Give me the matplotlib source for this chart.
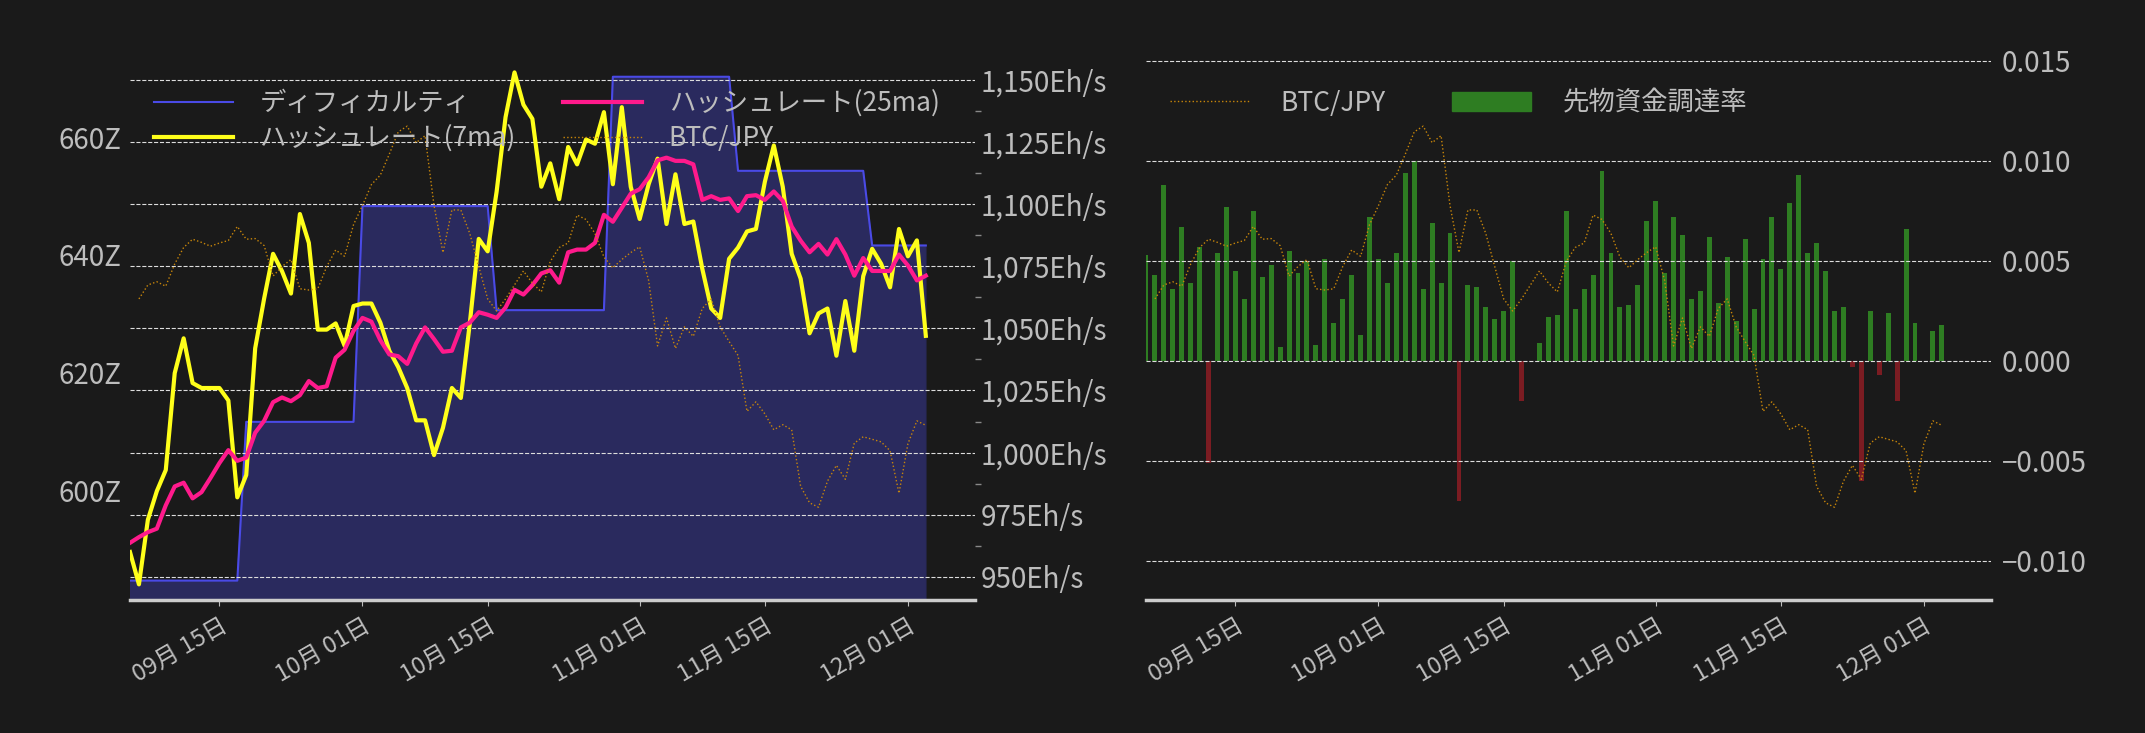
import matplotlib
matplotlib.use("Agg")
import matplotlib.pyplot as plt
import matplotlib.dates as mdates
import matplotlib.ticker as mticker
from matplotlib.patches import Patch
from matplotlib.lines import Line2D
import numpy as np
import pandas as pd

plt.rcParams['font.family'] = ['Noto Sans CJK JP', 'DejaVu Sans']

dates = pd.date_range("2025-09-05", periods=90, freq="D")
btc_dates = pd.date_range("2025-09-06", periods=89, freq="D")

difficulty = [584.6]*13 + [611.6]*13 + [648.3]*15 + [630.6]*13 + [670.3]*14 + [654.3]*15 + [641.6]*7

hash_7ma = [960, 947, 973, 984.5, 993, 1032, 1046, 1028, 1026, 1026, 1026, 1021, 982, 991, 1042,
            1062, 1080, 1073, 1064, 1096, 1084.4, 1049.5, 1049.5, 1052, 1043, 1059, 1060, 1060, 1052.3, 1041,
            1034.4, 1026, 1013, 1013, 999, 1010, 1026, 1022, 1052, 1086, 1081, 1105, 1135, 1153, 1140,
            1134.3, 1107, 1116.4, 1102, 1123, 1116, 1126, 1124.3, 1137, 1108, 1139, 1107, 1094, 1108, 1118.3,
            1092, 1112, 1092, 1093, 1074, 1058, 1054.2, 1078, 1082.5, 1089, 1090, 1109, 1123.6, 1107, 1080,
            1070, 1048, 1056, 1058, 1039, 1061, 1041, 1071, 1082, 1076, 1066.5, 1090, 1079, 1085.4, 1047]

hash_25ma = [963.7, 966, 968, 969.4, 978.8, 986.4, 987.9, 981.6, 984.1, 989.8, 995.8, 1001, 996.7, 998, 1008,
             1012.8, 1020.3, 1022.2, 1020.7, 1023.1, 1028.8, 1026, 1026.7, 1038.2, 1041.4, 1049, 1054.2, 1052.7, 1045.2, 1039.5,
             1038.8, 1035.7, 1043.9, 1050.4, 1045.7, 1040.6, 1041, 1050.4, 1052.3, 1056.5, 1055.5, 1054.2, 1058.4, 1065.5, 1063.6,
             1067.4, 1072.1, 1073.4, 1068.4, 1080.6, 1081.7, 1081.7, 1084.4, 1095.7, 1092.9, 1098.5, 1104.2, 1106, 1110.8, 1117.6,
             1118.7, 1117.4, 1117.4, 1116, 1101.7, 1103.2, 1101.7, 1102.3, 1097.2, 1103.2, 1103.6, 1101.7, 1105.1, 1101.3, 1091,
             1085.3, 1080.6, 1084, 1079.7, 1085.9, 1079.7, 1071.2, 1078.3, 1073.1, 1073.1, 1073.1, 1079.7, 1075.3, 1069.3, 1071.2]

btc_jpy = [16.18, 16.40, 16.45, 16.38, 16.73, 16.99, 17.12, 17.07, 17.01, 17.06, 17.10, 17.32, 17.12, 17.13, 17.02,
           16.54, 16.69, 16.80, 16.34, 16.32, 16.34, 16.69, 16.95, 16.85, 17.35, 17.65, 17.98, 18.13, 18.46, 18.81,
           18.90, 18.64, 18.75, 17.65, 16.91, 17.58, 17.58, 17.21, 16.69, 16.18, 15.99, 16.18, 16.40, 16.62, 16.43,
           16.29, 16.77, 16.99, 17.06, 17.50, 17.43, 17.21, 16.84, 16.67, 16.80, 16.91, 17.00, 16.47, 15.44, 15.88,
           15.40, 15.74, 15.59, 16.03, 16.18, 15.74, 15.51, 15.29, 14.41, 14.56, 14.37, 14.12, 14.20, 14.12, 13.23,
           12.97, 12.90, 13.31, 13.56, 13.34, 13.91, 14.01, 13.97, 13.93, 13.79, 13.12, 13.90, 14.26, 14.19]

funding = [0.0053, 0.0043, 0.0088, 0.0036, 0.0067, 0.0039, 0.0057, -0.0051, 0.0054, 0.0077,
           0.0045, 0.0031, 0.0075, 0.0042, 0.0048, 0.0007, 0.0055, 0.0044, 0.0050, 0.0008,
           0.0051, 0.0019, 0.0031, 0.0043, 0.0013, 0.0072, 0.0051, 0.0039, 0.0054, 0.0094,
           0.0100, 0.0036, 0.0069, 0.0039, 0.0064, -0.0070, 0.0038, 0.0037, 0.0027, 0.0021,
           0.0025, 0.0050, -0.0020, 0.0, 0.0009, 0.0022, 0.0023, 0.0075, 0.0026, 0.0036,
           0.0043, 0.0095, 0.0054, 0.0027, 0.0028, 0.0038, 0.0070, 0.0080, 0.0044, 0.0072,
           0.0063, 0.0031, 0.0035, 0.0062, 0.0029, 0.0052, 0.0020, 0.0061, 0.0026, 0.0051,
           0.0072, 0.0046, 0.0079, 0.0093, 0.0054, 0.0059, 0.0045, 0.0025, 0.0027, -0.0003,
           -0.0060, 0.0025, -0.0007, 0.0024, -0.0020, 0.0066, 0.0019, 0.0, 0.0015, 0.0018]

BG = "#1a1a1a"
TXT = "#bdbdbd"
YFS = 20
LFS = 19
XFS = 17
xlim = (pd.Timestamp("2025-09-05"), pd.Timestamp("2025-12-08 12:00"))
tick_dates = pd.to_datetime(["2025-09-15", "2025-10-01", "2025-10-15", "2025-11-01", "2025-11-15", "2025-12-01"])
btc_lim = (11.44, 20.02)

fig = plt.figure(figsize=(21.45, 7.33), dpi=100, facecolor=BG)

def style_x(ax):
    ax.set_xlim(*xlim)
    ax.set_xticks(tick_dates)
    ax.xaxis.set_major_formatter(mdates.DateFormatter("%m月 %d日"))
    ax.tick_params(axis="x", colors=TXT, labelsize=XFS, length=4, labelrotation=30, pad=6)
    for lab in ax.get_xticklabels():
        lab.set_ha("right")
        lab.set_rotation_mode("anchor")
    for s in ["top", "left", "right"]:
        ax.spines[s].set_visible(False)
    ax.spines["bottom"].set_color("#cccccc")
    ax.spines["bottom"].set_linewidth(2.5)

# ---------- left panel ----------
axL = fig.add_axes([130 / 2145, 133 / 733, 845 / 2145, 545 / 733])
axL.set_facecolor(BG)
axL.plot(dates, difficulty, color="#4a4ae6", lw=1.5, zorder=2)
axL.fill_between(dates, difficulty, 500, color="#2a2a5e", zorder=1)
axL.set_ylim(581.3, 674)
axL.set_yticks([600, 620, 640, 660])
axL.yaxis.set_major_formatter(mticker.FuncFormatter(lambda v, p: f"{v:.0f}Z"))
axL.tick_params(axis="y", colors=TXT, labelsize=YFS, length=0, pad=6)
style_x(axL)

axH = axL.twinx()
axH.set_ylim(940.7, 1160)
axH.set_yticks(np.arange(950, 1151, 25))
axH.yaxis.set_minor_locator(mticker.MultipleLocator(12.5))
axH.yaxis.set_major_formatter(mticker.FuncFormatter(lambda v, p: f"{v:,.0f}Eh/s"))
axH.tick_params(axis="y", which="major", colors=TXT, labelsize=YFS, length=0, pad=4)
axH.tick_params(axis="y", which="minor", colors="#888888", length=4, width=1)
axH.grid(axis="y", color="#dddddd", ls="--", lw=0.8)
for s in ["top", "left", "right", "bottom"]:
    axH.spines[s].set_visible(False)
axH.plot(dates, hash_7ma, color="#ffff1a", lw=3, zorder=3)
axH.plot(dates, hash_25ma, color="#ff1a8c", lw=3, zorder=4)

axB = axL.twinx()
axB.plot(btc_dates, btc_jpy, color="#c8860a", lw=1, ls=":")
axB.set_ylim(*btc_lim)
axB.axis("off")

handlesL = [Line2D([], [], color="#4a4ae6", lw=1.5),
            Line2D([], [], color="#ffff1a", lw=3),
            Line2D([], [], color="#ff1a8c", lw=3),
            Line2D([], [], color="#c8860a", lw=1, ls=":")]
labelsL = ["ディフィカルティ", "ハッシュレート(7ma)", "ハッシュレート(25ma)", "BTC/JPY"]
axB.legend(handlesL, labelsL, ncol=2, loc="upper left", bbox_to_anchor=(0.0, 0.98),
           frameon=False, fontsize=LFS, labelcolor=TXT, handlelength=3.0,
           columnspacing=1.8, handletextpad=1.0, labelspacing=0.3)

# ---------- right panel ----------
axR = fig.add_axes([1146 / 2145, 133 / 733, 845 / 2145, 545 / 733])
axR.set_facecolor(BG)
fcol = ["#2e7d22" if v >= 0 else "#7b1c22" for v in funding]
axR.bar(dates, funding, width=0.55, color=fcol, zorder=2)
axR.set_ylim(-0.01196, 0.0153)
axR.set_yticks([-0.010, -0.005, 0.0, 0.005, 0.010, 0.015])
axR.yaxis.set_major_formatter(mticker.FuncFormatter(lambda v, p: f"{v:.3f}".replace("-", "\u2212")))
axR.grid(axis="y", color="#dddddd", ls="--", lw=0.8, zorder=3)
axR.set_axisbelow(False)
style_x(axR)

axRB = axR.twinx()
axRB.plot(btc_dates, btc_jpy, color="#c8860a", lw=1, ls=":")
axRB.set_ylim(*btc_lim)
axRB.axis("off")

axR.yaxis.tick_right()
axR.yaxis.set_label_position("right")
axR.tick_params(axis="y", colors=TXT, labelsize=YFS, length=0, pad=8, labelright=True, labelleft=False)

handlesR = [Line2D([], [], color="#c8860a", lw=1, ls=":"), Patch(color="#2e7d22")]
axRB.legend(handlesR, ["BTC/JPY", "先物資金調達率"], ncol=2, loc="upper left", bbox_to_anchor=(0.0, 0.98),
            frameon=False, fontsize=LFS, labelcolor=TXT, handlelength=3.0,
            columnspacing=2.5, handletextpad=1.2)

fig.savefig("out.png", dpi=100, facecolor=BG)
